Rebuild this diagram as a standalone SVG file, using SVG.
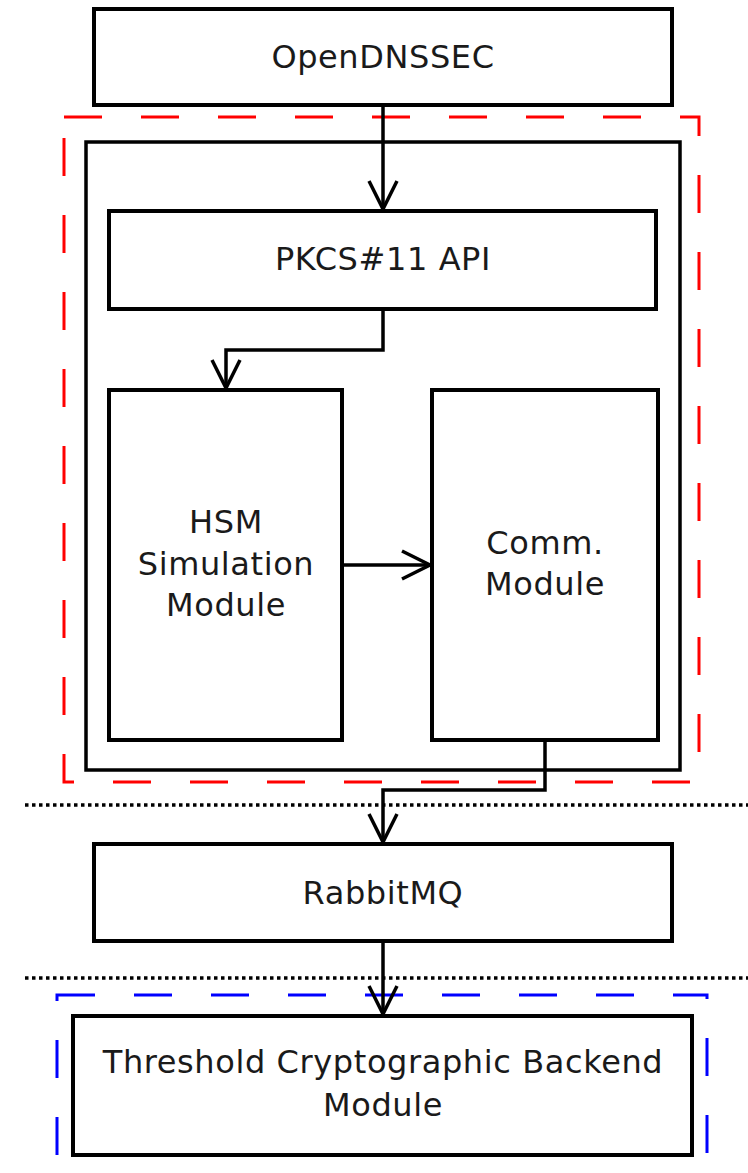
<svg xmlns="http://www.w3.org/2000/svg" width="748" height="1173" viewBox="0 0 748 1173">
<style>
.box{fill:#fff;stroke:#000;stroke-width:4}
.cont{fill:none;stroke:#000;stroke-width:3.5}
.lbl{font-family:"DejaVu Sans",sans-serif;font-size:32px;letter-spacing:0.6px;fill:#1a1a1a;text-anchor:middle}
.con{fill:none;stroke:#000;stroke-width:3.5;marker-end:url(#arr)}
.dot{stroke:#000;stroke-width:3.5;stroke-dasharray:3.5 3.5}
</style>
<defs>
<marker id="arr" markerUnits="userSpaceOnUse" markerWidth="40" markerHeight="40" refX="30" refY="15" orient="auto" viewBox="0 0 40 30">
<path d="M2,1 L30,15 L2,29" fill="none" stroke="#000" stroke-width="3.5"/>
</marker>
</defs>
<rect x="0" y="0" width="748" height="1173" fill="#fff"/>
<g id="separators">
<line class="dot" x1="25" y1="805" x2="748" y2="805"/>
<line class="dot" x1="25" y1="978" x2="748" y2="978"/>
</g>
<g id="red-group">
<rect x="64" y="117" width="635" height="665" fill="none" stroke="#f00" stroke-width="3" stroke-dasharray="38 39"/>
</g>
<g id="blue-group">
<rect x="57" y="995" width="650" height="200" fill="none" stroke="#00f" stroke-width="3" stroke-dasharray="38 39"/>
</g>
<g id="container">
<rect class="cont" x="86" y="142" width="594" height="628"/>
</g>
<g id="opendnssec">
<rect class="box" x="94" y="9" width="578" height="96"/>
<text class="lbl" x="383" y="68">OpenDNSSEC</text>
</g>
<g id="pkcs11">
<rect class="box" x="109" y="211" width="547" height="98"/>
<text class="lbl" x="383" y="270">PKCS#11 API</text>
</g>
<g id="hsm">
<rect class="box" x="109" y="390" width="233" height="350"/>
<text class="lbl" x="226" y="533">HSM</text>
<text class="lbl" x="226" y="575">Simulation</text>
<text class="lbl" x="226" y="616">Module</text>
</g>
<g id="comm">
<rect class="box" x="432" y="390" width="226" height="350"/>
<text class="lbl" x="545" y="554">Comm.</text>
<text class="lbl" x="545" y="595">Module</text>
</g>
<g id="rabbitmq">
<rect class="box" x="94" y="844" width="578" height="97"/>
<text class="lbl" x="383" y="904">RabbitMQ</text>
</g>
<g id="threshold">
<rect class="box" x="73" y="1016" width="619" height="139"/>
<text class="lbl" x="383" y="1073">Threshold Cryptographic Backend</text>
<text class="lbl" x="383" y="1116">Module</text>
</g>
<g id="connectors">
<path class="con" d="M383,105 L383,209"/>
<path class="con" d="M383,309 L383,350 L226,350 L226,388"/>
<path class="con" d="M342,565 L430,565"/>
<path class="con" d="M545,740 L545,790 L383,790 L383,842"/>
<path class="con" d="M383,941 L383,1014"/>
</g>
</svg>
